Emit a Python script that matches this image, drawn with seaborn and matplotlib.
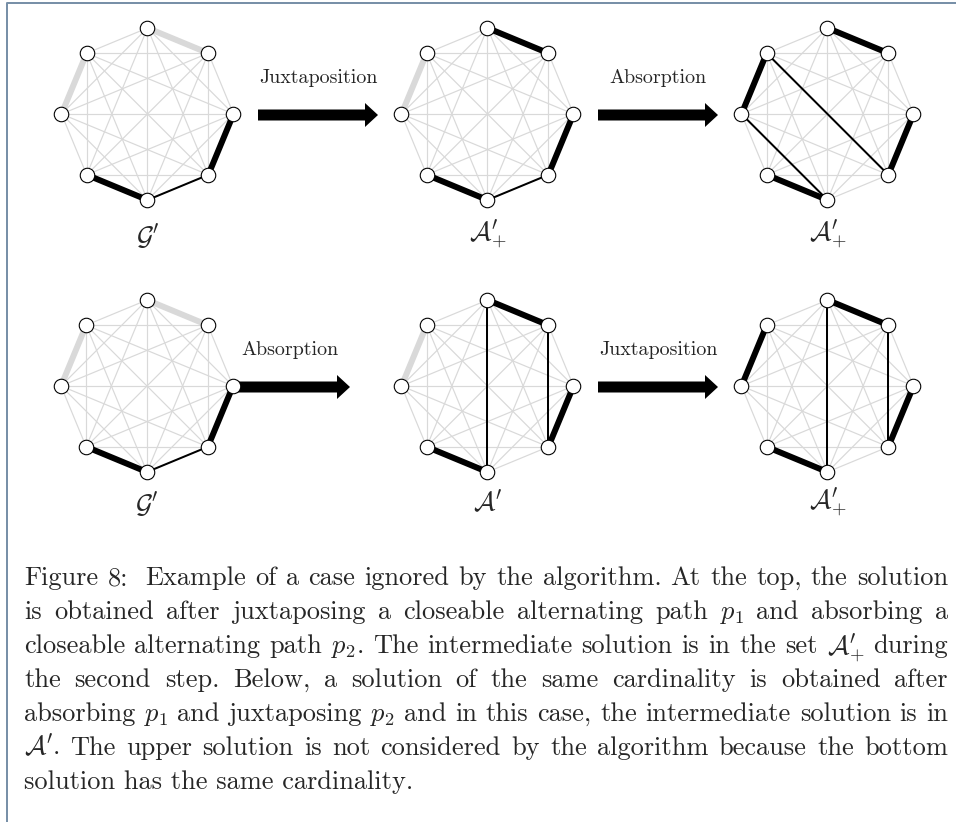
import numpy as np
import pandas as pd
import matplotlib
matplotlib.use("Agg")
import matplotlib.pyplot as plt
from matplotlib.patches import FancyArrow
import seaborn as sns

# ---------------- data ----------------
node_count = 8
panel_labels = [r'$\mathcal{G}^{\prime}$', r'$\mathcal{A}^{\prime}_{+}$', r'$\mathcal{A}^{\prime}_{+}$',
                r'$\mathcal{G}^{\prime}$', r'$\mathcal{A}^{\prime}$', r'$\mathcal{A}^{\prime}_{+}$']
# vertices numbered clockwise from the top
thick_black = [[(2, 3), (4, 5)],
               [(0, 1), (2, 3), (4, 5)],
               [(0, 1), (2, 3), (4, 5), (6, 7)],
               [(2, 3), (4, 5)],
               [(0, 1), (2, 3), (4, 5)],
               [(0, 1), (2, 3), (4, 5), (6, 7)]]
thin_black = [[(3, 4)], [(3, 4)], [(7, 3), (6, 4)],
              [(3, 4)], [(0, 4), (1, 3)], [(0, 4), (1, 3)]]
thick_gray = [[(0, 1), (6, 7)], [(6, 7)], [],
              [(0, 1), (6, 7)], [(6, 7)], []]
arrow_labels = ['Juxtaposition', 'Absorption', 'Absorption', 'Juxtaposition']
caption_lines = [
    r"Figure 8:  Example of a case ignored by the algorithm. At the top, the solution",
    r"is obtained after juxtaposing a closeable alternating path $p_1$ and absorbing a",
    r"closeable alternating path $p_2$. The intermediate solution is in the set $\mathcal{A}^{\prime}_{+}$ during",
    r"the second step. Below, a solution of the same cardinality is obtained after",
    r"absorbing $p_1$ and juxtaposing $p_2$ and in this case, the intermediate solution is in",
    r"$\mathcal{A}^{\prime}$. The upper solution is not considered by the algorithm because the bottom",
    r"solution has the same cardinality.",
]

# ---------------- style ----------------
sns.set_theme(style="white")
plt.rcParams['font.family'] = ['cmr10', 'DejaVu Serif']
plt.rcParams['mathtext.fontset'] = 'cm'
plt.rcParams['axes.unicode_minus'] = False
plt.rcParams['axes.formatter.use_mathtext'] = True

W, H = 956, 822
fig = plt.figure(figsize=(W / 100, H / 100), dpi=100)
ax = fig.add_axes([0, 0, 1, 1])
ax.set_xlim(0, W)
ax.set_ylim(H, 0)
ax.axis('off')

PX = 0.72  # points per pixel

# frame
ax.plot([7.5, 7.5, W], [H, 3.5, 3.5], color='#7890a8', lw=2 * PX, solid_capstyle='butt')

# layout
centers = [(147.5, 114), (487.5, 114), (827.5, 114),
           (147.0, 386), (487.5, 386), (827.5, 386)]
label_y = [236, 234, 234, 504, 502, 502]
R = 86
ang = np.pi / 2 - np.arange(node_count) * 2 * np.pi / node_count

for g, (cx, cy) in enumerate(centers):
    xs = cx + R * np.cos(ang)
    ys = cy - R * np.sin(ang)
    # complete graph background
    for i in range(node_count):
        for j in range(i + 1, node_count):
            ax.plot([xs[i], xs[j]], [ys[i], ys[j]], color='#d9d9d9', lw=1.2 * PX, zorder=1)
    for (i, j) in thick_gray[g]:
        ax.plot([xs[i], xs[j]], [ys[i], ys[j]], color='#d9d9d9', lw=6 * PX, zorder=2,
                solid_capstyle='butt')
    for (i, j) in thin_black[g]:
        ax.plot([xs[i], xs[j]], [ys[i], ys[j]], color='black', lw=2 * PX, zorder=3)
    for (i, j) in thick_black[g]:
        ax.plot([xs[i], xs[j]], [ys[i], ys[j]], color='black', lw=6 * PX, zorder=3,
                solid_capstyle='butt')
    nodes = pd.DataFrame({'x': xs, 'y': ys})
    sns.scatterplot(data=nodes, x='x', y='y', ax=ax, s=(14.5 * PX) ** 2, color='white',
                    edgecolor='black', linewidth=1.1 * PX, zorder=5, legend=False)
    ax.text(cx, label_y[g], panel_labels[g], fontsize=19, ha='center', va='center')

ax.set_xlim(0, W)
ax.set_ylim(H, 0)
ax.axis('off')

# arrows
arrow_pos = [(258, 378, 115, 83), (598, 718, 115, 83), (230, 350, 387, 355), (598, 718, 387, 355)]
for (x0, x1, y, ly), lab in zip(arrow_pos, arrow_labels):
    ax.add_patch(FancyArrow(x0, y, x1 - x0, 0, width=11, head_width=24, head_length=13,
                            length_includes_head=True, color='black', lw=0, zorder=4))
    ax.text((x0 + x1) / 2, ly, lab, fontsize=14.4, ha='center', va='baseline')

# caption, justified
fs = 19
X0, X1 = 24, 948
base0 = 585
step = 34
fig.canvas.draw()
r = fig.canvas.get_renderer()
for k, line in enumerate(caption_lines):
    y = base0 + k * step
    if k == len(caption_lines) - 1:
        ax.text(X0, y, line, fontsize=fs, va='baseline', ha='left')
        continue
    words = line.replace('8:  ', '8: ').split(' ')
    ts = [ax.text(0, y, w, fontsize=fs, va='baseline', ha='left') for w in words]
    ws = [t.get_window_extent(r).width for t in ts]
    extra = 8 if k == 0 else 0
    gap = (X1 - X0 - sum(ws) - extra) / (len(words) - 1)
    x = X0
    for w, t, wd in zip(words, ts, ws):
        t.set_x(x)
        x += wd + gap
        if w == '8:':
            x += extra

fig.savefig('out.png', dpi=100)
